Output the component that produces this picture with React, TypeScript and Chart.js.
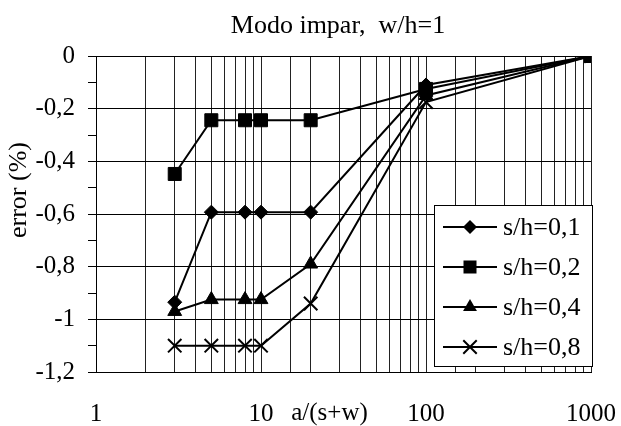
import React, { useEffect, useRef } from 'react';
import { Chart, registerables } from 'chart.js';

Chart.register(...registerables);

const titleText = 'Modo impar,  w/h=1';
const xAxisTitle = 'a/(s+w)';
const yAxisTitle = 'error (%)';

const xValues = [3, 5, 8, 10, 20, 100, 1000];
const seriesLabels = ['s/h=0,1', 's/h=0,2', 's/h=0,4', 's/h=0,8'];
const s01 = [-0.935, -0.593, -0.593, -0.593, -0.593, -0.11, 0];
const s02 = [-0.448, -0.244, -0.244, -0.244, -0.244, -0.125, 0];
const s04 = [-0.97, -0.925, -0.925, -0.925, -0.79, -0.15, 0];
const s08 = [-1.1, -1.1, -1.1, -1.1, -0.94, -0.175, 0];
const xTickLabels = [1, 10, 100, 1000];

const seriesValues = [s01, s02, s04, s08];
const pointStyles = ['rectRot', 'rect', 'triangle', 'crossRot'];
const pointRadii = [7, 9.2, 8, 9.5];

const FONT = '"Liberation Serif", "Times New Roman", serif';

function drawMarker(ctx: CanvasRenderingContext2D, style: string, x: number, y: number, r: number) {
  ctx.beginPath();
  if (style === 'rectRot') {
    ctx.moveTo(x, y - r);
    ctx.lineTo(x + r, y);
    ctx.lineTo(x, y + r);
    ctx.lineTo(x - r, y);
    ctx.closePath();
    ctx.fill();
  } else if (style === 'rect') {
    const s = Math.SQRT1_2 * r;
    ctx.rect(x - s, y - s, 2 * s, 2 * s);
    ctx.fill();
  } else if (style === 'triangle') {
    let a = 0;
    ctx.moveTo(x + Math.sin(a) * r, y - Math.cos(a) * r);
    a += (2 * Math.PI) / 3;
    ctx.lineTo(x + Math.sin(a) * r, y - Math.cos(a) * r);
    a += (2 * Math.PI) / 3;
    ctx.lineTo(x + Math.sin(a) * r, y - Math.cos(a) * r);
    ctx.closePath();
    ctx.fill();
  } else {
    const s = Math.SQRT1_2 * r;
    ctx.moveTo(x - s, y - s);
    ctx.lineTo(x + s, y + s);
    ctx.moveTo(x + s, y - s);
    ctx.lineTo(x - s, y + s);
    ctx.stroke();
  }
}

const overlayPlugin = {
  id: 'overlay',
  afterDraw(chart: any) {
    const ctx: CanvasRenderingContext2D = chart.ctx;
    ctx.save();
    ctx.fillStyle = '#000';
    ctx.strokeStyle = '#000';

    // title
    ctx.font = `26px ${FONT}`;
    ctx.textAlign = 'center';
    ctx.textBaseline = 'alphabetic';
    ctx.fillText(titleText, 338, 33);

    // x axis title, on tick label row
    const xs = chart.scales.x;
    ctx.font = `25px ${FONT}`;
    ctx.textBaseline = 'middle';
    ctx.fillText(xAxisTitle, xs.getPixelForValue(26), 413);

    // y axis title
    ctx.save();
    ctx.translate(19, 190);
    ctx.rotate(-Math.PI / 2);
    ctx.textBaseline = 'middle';
    ctx.font = `26px ${FONT}`;
    ctx.fillText(yAxisTitle, 0, 0);
    ctx.restore();

    // legend box
    const bx = 434, by = 205, bw = 158, bh = 161;
    ctx.fillStyle = '#fff';
    ctx.fillRect(bx, by, bw, bh);
    ctx.lineWidth = 1;
    ctx.strokeStyle = '#000';
    ctx.strokeRect(bx + 0.5, by + 0.5, bw, bh);
    ctx.fillStyle = '#000';
    ctx.font = `26px ${FONT}`;
    ctx.textAlign = 'left';
    ctx.textBaseline = 'middle';
    seriesLabels.forEach((lab, i) => {
      const cy = 227 + i * 40;
      ctx.lineWidth = 2;
      ctx.beginPath();
      ctx.moveTo(443, cy);
      ctx.lineTo(497, cy);
      ctx.stroke();
      drawMarker(ctx, pointStyles[i], 470, cy, pointRadii[i]);
      ctx.fillText(lab, 503, cy + 1);
    });
    ctx.restore();
  },
};

export default function App() {
  const ref = useRef<HTMLCanvasElement | null>(null);
  useEffect(() => {
    if (!ref.current) return;
    const datasets = seriesValues.map((vals, i) => ({
      label: seriesLabels[i],
      data: xValues.map((x, j) => ({ x, y: vals[j] })),
      borderColor: '#000',
      backgroundColor: '#000',
      borderWidth: 2,
      pointStyle: pointStyles[i] as any,
      pointRadius: pointRadii[i],
      pointHoverRadius: pointRadii[i],
      pointBackgroundColor: '#000',
      pointBorderColor: '#000',
      pointBorderWidth: pointStyles[i] === 'crossRot' ? 2 : 1,
      tension: 0,
      fill: false,
    }));
    const chart = new Chart(ref.current, {
      type: 'line',
      data: { datasets },
      plugins: [overlayPlugin],
      options: {
        animation: false,
        responsive: true,
        maintainAspectRatio: false,
        layout: { padding: { top: 56, right: 30, left: 0, bottom: 0 } },
        plugins: {
          legend: { display: false },
          title: { display: false },
          tooltip: { enabled: false },
        },
        scales: {
          x: {
            type: 'logarithmic',
            min: 1,
            max: 1000,
            afterFit: (s: any) => {
              s.height = 54;
              s.paddingLeft = 0;
              s.paddingRight = 0;
            },
            grid: {
              color: '#222',
              lineWidth: 1,
              drawTicks: false,
            },
            border: { display: true, color: '#000', width: 1 },
            ticks: {
              autoSkip: false,
              maxRotation: 0,
              padding: 27,
              color: '#000',
              font: { family: FONT, size: 25 },
              callback: (v: any) => (xTickLabels.includes(Number(v)) ? String(v) : ''),
            },
          },
          y: {
            type: 'linear',
            min: -1.2,
            max: 0,
            afterFit: (s: any) => {
              s.width = 96;
              s.paddingTop = 0;
              s.paddingBottom = 0;
            },
            grid: {
              color: (c: any) => (c.tick && Math.round(c.tick.value * 10) % 2 === 0 ? '#000' : 'rgba(0,0,0,0)'),
              tickColor: '#000',
              tickLength: 8,
              lineWidth: 1,
            },
            border: { display: true, color: '#000', width: 1 },
            ticks: {
              stepSize: 0.1,
              autoSkip: false,
              padding: 13,
              color: '#000',
              font: { family: FONT, size: 25 },
              callback: (v: any) => {
                const k = Math.round(Number(v) * 10);
                if (k % 2 !== 0) return '';
                return String(k / 10).replace('.', ',');
              },
            },
          },
        },
      },
    });
    return () => chart.destroy();
  }, []);
  return (
    <div style={{ position: 'fixed', left: 0, top: 0, width: 621, height: 426, background: '#fff' }}>
      <canvas ref={ref} />
    </div>
  );
}
